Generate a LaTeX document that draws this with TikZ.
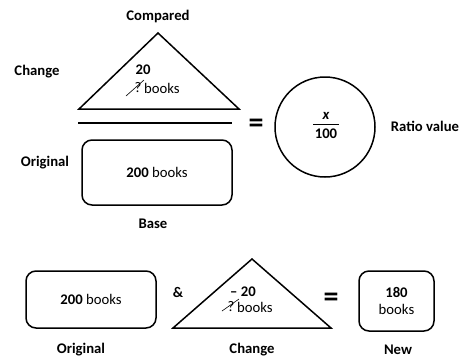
\documentclass[tikz,border=0pt]{standalone}
\usepackage{fontspec}
\setmainfont{Carlito}
\begin{document}
\begin{tikzpicture}[x=1pt,y=-1pt,
    font=\fontsize{14.7}{17}\selectfont,
    lbl/.style={font=\fontsize{14.7}{17}\selectfont\bfseries, inner sep=0pt},
    txt/.style={inner sep=0pt},
    forme/.style={draw, line width=1.5pt, line join=miter},
    boite/.style={draw, line width=1.5pt, rounded corners=10pt, inner sep=0pt},
    egal/.style={font=\fontsize{30}{30}\selectfont\bfseries, inner sep=0pt},
    barre/.style={line width=0.6pt}]
    \useasboundingbox (0,0) rectangle (466,360);

    % Triangle du haut
    \coordinate (ha) at (158,33);
    \coordinate (hg) at (79,109);
    \coordinate (hd) at (239,109);
    \draw[forme] (ha) -- (hg) -- (hd) -- cycle;
    \node[lbl] (compare) at (158,16) {Compared};
    \node[lbl] (chg) at (37,72) {Change};
    \node[txt, font=\fontsize{14.7}{17}\selectfont\bfseries] (vingt) at (143,70) {20};
    \node[txt] (q1) at (138,88) {?};
    \node[txt, anchor=west] (livres1) at (144,88) {books};
    \draw[barre] ([shift={(-12,8)}]q1.center) -- ([shift={(6,-8)}]q1.center);

    % Barre de fraction
    \coordinate (fg) at (78,123);
    \coordinate (fd) at (232,123);
    \draw[line width=2pt] (fg) -- (fd);

    % Base
    \node[boite, minimum width=150, minimum height=65] (base) at (157,172.5)
        {\textbf{200} books};
    \node[lbl] (orig1) at (45,163) {Original};
    \node[lbl] (bas) at (153,224) {Base};

    % Rapport
    \node[egal] (eg1) at (256,126) {=};
    \node[draw, circle, line width=1.5pt, minimum size=100] (rond) at (325,127) {};
    \node[txt, font=\fontsize{14.7}{17}\selectfont\bfseries\itshape] (xx) at (326,116) {x};
    \node[txt, font=\fontsize{14.7}{17}\selectfont\bfseries] (cent) at (326,134) {100};
    \coordinate (rg) at (313,124.5);
    \coordinate (rd) at (339,124.5);
    \draw[line width=0.8pt] (rg) -- (rd);
    \node[lbl] (ratio) at (425,126) {Ratio value};

    % Ligne du bas
    \node[boite, minimum width=130, minimum height=57] (orig) at (91,299.5)
        {\textbf{200} books};
    \node[lbl] (orig2) at (81,350) {Original};
    \node[lbl] (et) at (178,292) {\&};

    \coordinate (ba) at (252,259);
    \coordinate (bg) at (173,328);
    \coordinate (bd) at (331,328);
    \draw[forme] (ba) -- (bg) -- (bd) -- cycle;
    \node[txt, font=\fontsize{14.7}{17}\selectfont\bfseries] (moins) at (243,292) {\textendash\ 20};
    \node[txt] (q2) at (231,307) {?};
    \node[txt, anchor=west] (livres2) at (237,307) {books};
    \draw[barre] ([shift={(-9,4)}]q2.center) -- ([shift={(8,-8)}]q2.center);
    \node[lbl] (chg2) at (252,350) {Change};

    \node[egal] (eg2) at (331,300) {=};
    \node[boite, minimum width=75, minimum height=60, align=center] (nouv) at (396.5,301)
        {\textbf{180}\\books};
    \node[lbl] (new) at (398,350) {New};
\end{tikzpicture}
\end{document}
